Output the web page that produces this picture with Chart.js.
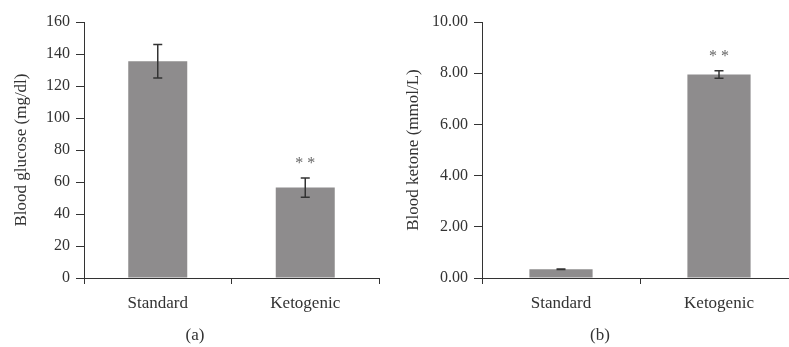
<!DOCTYPE html>
<html>
<head>
<meta charset="utf-8">
<script src="https://cdn.jsdelivr.net/npm/chart.js@4.4.1/dist/chart.umd.min.js"></script>
<style>
  html, body { margin: 0; padding: 0; background: #fff; overflow: hidden; width: 789px; height: 347px; }
  .wrap { position: absolute; top: 0; height: 347px; }
  #wa { left: 0; width: 395px; }
  #wb { left: 395px; width: 410px; }
</style>
</head>
<body>
<div class="wrap" id="wa"><canvas id="ca" width="395" height="347"></canvas></div>
<div class="wrap" id="wb"><canvas id="cb" width="410" height="347"></canvas></div>
<script>
// ---- data ----
const categories = ['Standard', 'Ketogenic'];
const glucoseMean = [135.5, 56.5];
const glucoseErr = [10.5, 6.0];
const ketoneMean = [0.34, 7.95];
const ketoneErr = [0.01, 0.15];
const significance = ['', '* *'];
const glucoseTicks = ['0', '20', '40', '60', '80', '100', '120', '140', '160'];
const ketoneTicks = ['0.00', '2.00', '4.00', '6.00', '8.00', '10.00'];

const FONT = "'Liberation Serif', 'Times New Roman', serif";
const TEXT = '#333333';
const AXIS = '#333333';
const BAR = '#8e8c8d';

const errPlugin = {
  id: 'errbars',
  afterDatasetsDraw(chart, args, opts) {
    const ctx = chart.ctx;
    const meta = chart.getDatasetMeta(0);
    const ys = chart.scales.y;
    ctx.save();
    meta.data.forEach((bar, i) => {
      const m = opts.mean[i], e = opts.err[i];
      const x = bar.x;
      const yt = ys.getPixelForValue(m + e);
      const yb = ys.getPixelForValue(m - e);
      ctx.strokeStyle = '#333';
      ctx.lineWidth = 1.5;
      ctx.beginPath();
      ctx.moveTo(x, yt); ctx.lineTo(x, yb);
      ctx.moveTo(x - 4.5, yt); ctx.lineTo(x + 4.5, yt);
      ctx.moveTo(x - 4.5, yb); ctx.lineTo(x + 4.5, yb);
      ctx.stroke();
      if (opts.sig[i]) {
        ctx.fillStyle = '#666';
        ctx.font = '16px ' + FONT;
        ctx.textAlign = 'center';
        ctx.textBaseline = 'middle';
        ctx.fillText(opts.sig[i], x, yt - 14);
      }
    });
    ctx.restore();
  }
};

function makeChart(id, mean, err, tickLabels, maxV, step, yTitle, panel, padLeft, yWidth, padRight, titlePad) {
  return new Chart(document.getElementById(id), {
    type: 'bar',
    data: {
      labels: categories,
      datasets: [{
        data: mean,
        backgroundColor: BAR,
        borderWidth: 0,
        barPercentage: 0.4,
        categoryPercentage: 1.0
      }]
    },
    options: {
      responsive: false,
      animation: false,
      events: [],
      layout: { padding: { left: padLeft, right: padRight, top: 22, bottom: 0 } },
      plugins: {
        legend: { display: false },
        tooltip: { enabled: false },
        title: {
          display: true, position: 'bottom', text: panel, color: TEXT,
          font: { family: FONT, size: 17, weight: 'normal', lineHeight: 1.2 },
          padding: { top: 0, bottom: 1 }
        },
        errbars: { mean: mean, err: err, sig: significance }
      },
      scales: {
        x: {
          offset: true,
          grid: { display: true, drawOnChartArea: false, drawTicks: true, tickLength: 6, color: AXIS, lineWidth: 1 },
          border: { display: true, color: AXIS, width: 1 },
          ticks: { color: TEXT, font: { family: FONT, size: 17 }, padding: 9 },
          afterFit: s => { s.height = 47.6; }
        },
        y: {
          min: 0, max: maxV,
          grid: { display: true, drawOnChartArea: false, drawTicks: true, tickLength: 8, color: AXIS, lineWidth: 1 },
          border: { display: true, color: AXIS, width: 1 },
          ticks: {
            stepSize: step, color: TEXT, font: { family: FONT, size: 16 }, padding: 6,
            callback: (v, i) => tickLabels[i]
          },
          title: { display: true, text: yTitle, color: TEXT, font: { family: FONT, size: 17 }, padding: { top: titlePad, bottom: 0 } },
          afterFit: s => { s.width = yWidth; }
        }
      }
    },
    plugins: [errPlugin]
  });
}

makeChart('ca', glucoseMean, glucoseErr, glucoseTicks, 160, 20, 'Blood glucose (mg/dl)', '(a)', 11, 73, 16, 0);
makeChart('cb', ketoneMean, ketoneErr, ketoneTicks, 10, 2, 'Blood ketone (mmol/L)', '(b)', 7, 80, 7, 1);
</script>
</body>
</html>
